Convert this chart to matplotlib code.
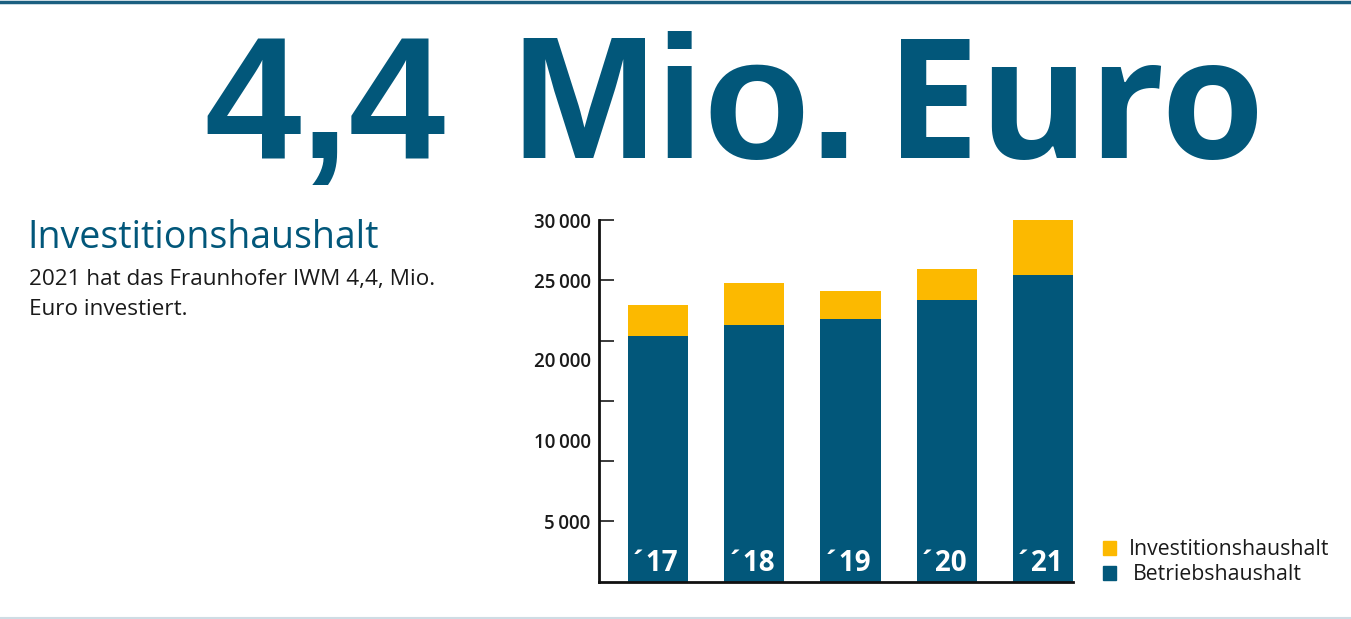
import matplotlib.pyplot as plt
from matplotlib.patches import Rectangle
from matplotlib.lines import Line2D

# Haushalt in Tsd. Euro
years = ["´17", "´18", "´19", "´20", "´21"]
betrieb = [20400, 21300, 21800, 23400, 25450]
invest = [2550, 3450, 2300, 2550, 4550]

# y-axis: tick marks every 5000, labels as printed in the brochure
tick_vals = [5000, 10000, 15000, 20000, 25000, 30000]
label_vals = [5000, 11700, 18400, 25000, 30000]
label_txt = ["5\u2009000", "10\u2009000", "20\u2009000", "25\u2009000", "30\u2009000"]

BLUE = "#02577a"
YELLOW = "#fcb900"
W, H = 1351, 619


def fx(x):
    return x / W


def fy(y):
    return 1 - y / H


plt.rcParams["font.family"] = ["Open Sans", "DejaVu Sans"]
fig = plt.figure(figsize=(W / 100, H / 100), dpi=100)

# frame lines top and bottom
fig.add_artist(Line2D([0, 1], [fy(1.5), fy(1.5)], color="#1b5f80", lw=2.5))
fig.add_artist(Line2D([0, 1], [fy(618), fy(618)], color="#cfdce4", lw=1.5))

# headline
fig.text(fx(204), fy(158), "4,4", family="Liberation Sans", weight="bold",
         fontsize=125, color=BLUE, va="baseline", ha="left")
fig.text(fx(511), fy(158), "Mio.", family="Liberation Sans", weight="bold",
         fontsize=125, color=BLUE, va="baseline", ha="left")
fig.text(fx(886), fy(158), "Euro", weight="bold", fontsize=120, color=BLUE,
         va="baseline", ha="left")

fig.text(fx(27), fy(248), "Investitionshaushalt", fontsize=27, color=BLUE,
         va="baseline")
fig.text(fx(29), fy(285), "2021 hat das Fraunhofer IWM 4,4, Mio.", fontsize=16.2,
         color="#1a1a1a", va="baseline")
fig.text(fx(29), fy(315), "Euro investiert.", fontsize=16.2, color="#1a1a1a",
         va="baseline")

# stacked bars
ax = fig.add_axes([fx(599), fy(581.5), fx(1073) - fx(599), fy(220) - fy(581.5)])
x = range(len(years))
bw = 0.625
ax.bar(x, betrieb, width=bw, color=BLUE)
ax.bar(x, invest, bottom=betrieb, width=bw, color=YELLOW)
for i, lab in enumerate(years):
    ax.text(i - 0.04, 900, lab, ha="center", va="baseline", color="white",
            fontsize=20, weight="bold")

ax.set_xlim(-0.615, 4 + bw / 2)
ax.set_ylim(0, 30000)
ax.set_xticks([])
ax.yaxis.remove_overlapping_locs = False
ax.set_yticks(label_vals, label_txt)
ax.tick_params(axis="y", which="major", length=0, pad=6, labelsize=13.5,
               labelcolor="#1a1a1a")
for t in ax.get_yticklabels():
    t.set_fontweight("semibold")
ax.set_yticks(tick_vals, minor=True)
ax.tick_params(axis="y", which="minor", direction="in", length=11, width=1.2,
               color="#1a1a1a")
for s in ["top", "right"]:
    ax.spines[s].set_visible(False)
for s in ["left", "bottom"]:
    ax.spines[s].set_linewidth(2)
    ax.spines[s].set_color("#111111")

# legend
for y0, col, lab, tx in [(541, YELLOW, "Investitionshaushalt", 1129),
                         (566, BLUE, "Betriebshaushalt", 1133)]:
    fig.add_artist(Rectangle((fx(1103), fy(y0 + 14)), fx(13), 14 / H,
                             color=col, transform=fig.transFigure))
    fig.text(fx(tx), fy(y0 + 14), lab, fontsize=15.3, color="#1a1a1a",
             va="baseline")

fig.savefig("out.png", dpi=100)
